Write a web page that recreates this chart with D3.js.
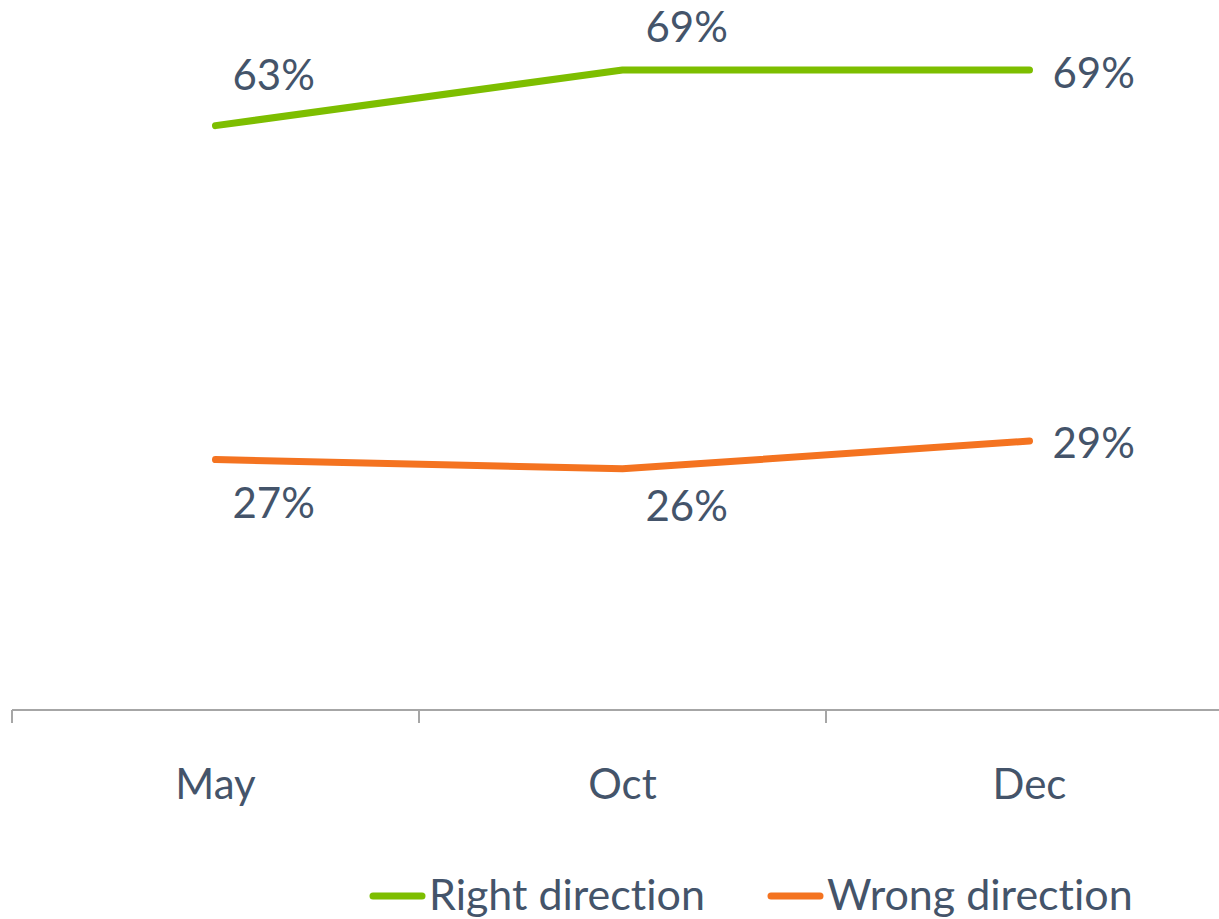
<!DOCTYPE html>
<html lang="en">
<head>
    <meta charset="UTF-8">
    <title>Right direction / Wrong direction</title>
    <script src="https://cdn.jsdelivr.net/npm/d3@7/dist/d3.min.js"></script>
    <style>
        html, body {
            margin: 0;
            padding: 0;
            background: #ffffff;
        }

        svg text {
            font-family: Lato, "Open Sans", sans-serif;
            font-variant-ligatures: none;
            fill: #44546a;
        }
    </style>
</head>
<body>
<svg id="chart" width="1219" height="919"></svg>
<script>
    // data
    let months = ["May", "Oct", "Dec"];
    let rightDirection = [0.63, 0.69, 0.69];
    let wrongDirection = [0.27, 0.26, 0.29];
    let seriesNames = ["Right direction", "Wrong direction"];

    let colors = ["#7dbe00", "#f47320"];

    // where each value label sits relative to its point (dx, baseline dy)
    let labelOffsets = [
        [[17, -36], [23, -28], [23, 18]],
        [[17, 58], [23, 52], [23, 17]]
    ];

    let svg = d3.select("#chart");

    let x = d3.scaleBand()
        .domain(months)
        .range([12, 1233]);

    let y = d3.scaleLinear()
        .domain([0, 0.69])
        .range([710, 70]);

    // axis line + tick marks between categories
    svg.append("line")
        .attr("x1", 12).attr("x2", 1219)
        .attr("y1", 710).attr("y2", 710)
        .attr("stroke", "#a6a6a6")
        .attr("stroke-width", 2);

    let bounds = months.map(function (m) { return x(m); }).concat([x.range()[1]]);
    svg.selectAll("line.tick")
        .data(bounds)
        .enter()
        .append("line")
        .attr("class", "tick")
        .attr("x1", function (d) { return d; })
        .attr("x2", function (d) { return d; })
        .attr("y1", 710)
        .attr("y2", 723)
        .attr("stroke", "#a6a6a6")
        .attr("stroke-width", 2);

    svg.selectAll("text.month")
        .data(months)
        .enter()
        .append("text")
        .attr("class", "month")
        .attr("x", function (d) { return x(d) + x.bandwidth() / 2; })
        .attr("y", 799)
        .attr("text-anchor", "middle")
        .style("font-size", "42px")
        .text(function (d) { return d; });

    // lines
    let series = [rightDirection, wrongDirection];
    let line = d3.line()
        .x(function (d, i) { return x(months[i]) + x.bandwidth() / 2; })
        .y(function (d) { return y(d); });

    series.forEach(function (values, s) {
        svg.append("path")
            .datum(values)
            .attr("d", line)
            .attr("fill", "none")
            .attr("stroke", colors[s])
            .attr("stroke-width", 7)
            .attr("stroke-linecap", "round")
            .attr("stroke-linejoin", "round");

        svg.selectAll("text.lab" + s)
            .data(values)
            .enter()
            .append("text")
            .attr("class", "lab" + s)
            .attr("x", function (d, i) { return x(months[i]) + x.bandwidth() / 2 + labelOffsets[s][i][0]; })
            .attr("y", function (d, i) { return y(d) + labelOffsets[s][i][1]; })
            .style("font-size", "42px")
            .text(function (d) { return Math.round(d * 100) + "%"; });
    });

    // legend
    let legendX = [370, 768];
    let legend = svg.selectAll("g.legend")
        .data(seriesNames)
        .enter()
        .append("g")
        .attr("class", "legend")
        .attr("transform", function (d, i) { return "translate(" + legendX[i] + ",896)"; });

    legend.append("line")
        .attr("x1", 3).attr("x2", 52)
        .attr("y1", 0).attr("y2", 0)
        .attr("stroke", function (d, i) { return colors[i]; })
        .attr("stroke-width", 7)
        .attr("stroke-linecap", "round");

    legend.append("text")
        .attr("x", 59)
        .attr("y", 14)
        .style("font-size", "43px")
        .text(function (d) { return d; });
</script>
</body>
</html>
